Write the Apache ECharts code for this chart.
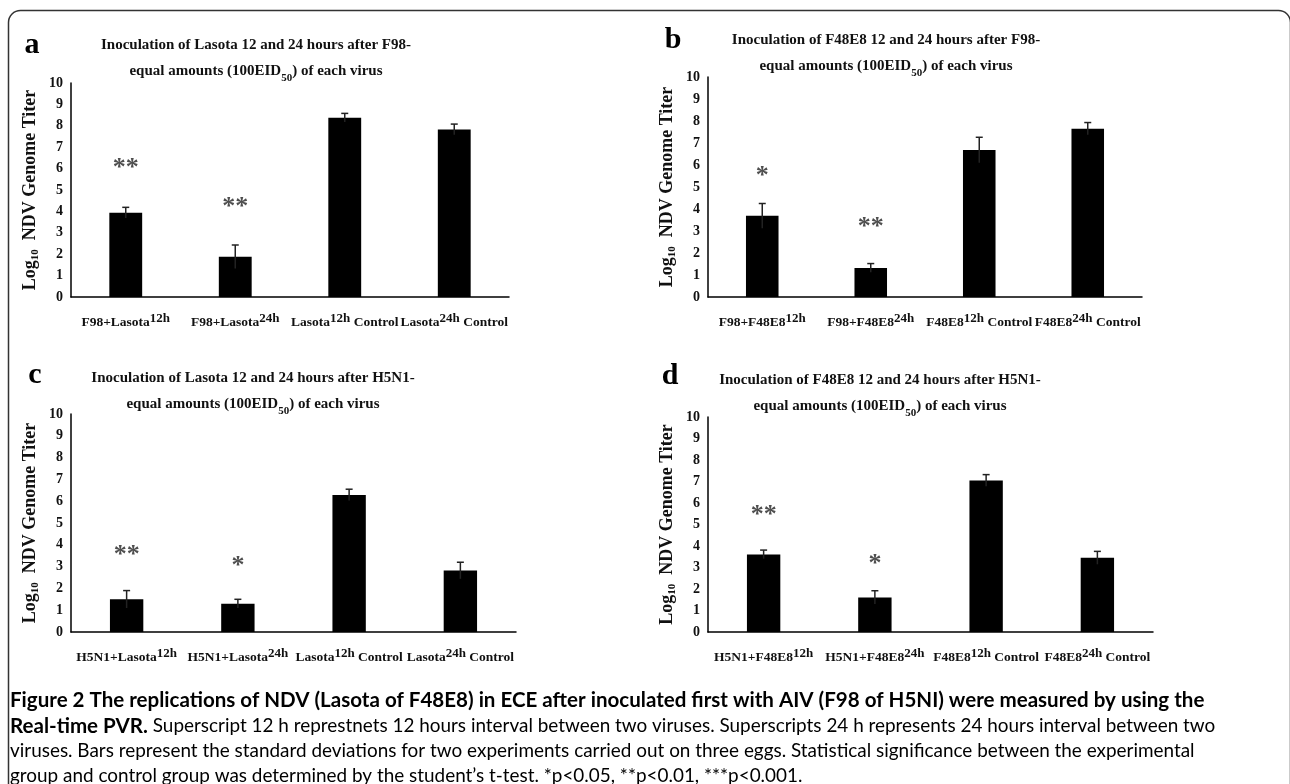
<!DOCTYPE html>
<html><head><meta charset="utf-8">
<script src="https://cdn.jsdelivr.net/npm/echarts@6/dist/echarts.min.js"></script>
<style>html,body{margin:0;padding:0;background:#fff}#c{width:1290px;height:784px}</style>
</head><body><div id="c"></div>
<script>
// ---------- data ----------
const yTickLabels = ['0','1','2','3','4','5','6','7','8','9','10'];

const titleA = 'Inoculation of Lasota 12 and 24 hours after F98-';
const titleB = 'Inoculation of F48E8 12 and 24 hours after F98-';
const titleC = 'Inoculation of Lasota 12 and 24 hours after H5N1-';
const titleD = 'Inoculation of F48E8 12 and 24 hours after H5N1-';
const titleLine2 = ['equal amounts (100EID', '50', ') of each virus'];
const yName = ['Log', '10', '  NDV Genome Titer'];
const panelLetters = ['a', 'b', 'c', 'd'];

// '^' toggles superscript
const catsA = ['F98+Lasota^12h', 'F98+Lasota^24h', 'Lasota^12h^ Control', 'Lasota^24h^ Control'];
const catsB = ['F98+F48E8^12h', 'F98+F48E8^24h', 'F48E8^12h^ Control', 'F48E8^24h^ Control'];
const catsC = ['H5N1+Lasota^12h', 'H5N1+Lasota^24h', 'Lasota^12h^ Control', 'Lasota^24h^ Control'];
const catsD = ['H5N1+F48E8^12h', 'H5N1+F48E8^24h', 'F48E8^12h^ Control', 'F48E8^24h^ Control'];

const valsA = [3.94, 1.88, 8.38, 7.83];
const errsA = [0.25, 0.55, 0.20, 0.25];
const valsB = [3.69, 1.32, 6.68, 7.65];
const errsB = [0.56, 0.20, 0.58, 0.28];
const valsC = [1.50, 1.30, 6.29, 2.82];
const errsC = [0.40, 0.20, 0.26, 0.38];
const valsD = [3.61, 1.61, 7.05, 3.45];
const errsD = [0.20, 0.31, 0.27, 0.30];

const starsA = ['**', '**', '', ''];
const starYA = [6.3, 4.45, null, null];
const starsB = ['*', '**', '', ''];
const starYB = [5.75, 3.42, null, null];
const starsC = ['**', '*', '', ''];
const starYC = [3.8, 3.3, null, null];
const starsD = ['**', '*', '', ''];
const starYD = [5.7, 3.42, null, null];

const caption1 = 'Figure 2 The replications of NDV (Lasota of F48E8) in ECE after inoculated first with AIV (F98 of H5NI) were measured by using the';
const caption2b = 'Real-time PVR.';
const caption2 = ' Superscript 12 h represtnets 12 hours interval between two viruses. Superscripts 24 h represents 24 hours interval between two';
const caption3 = 'viruses. Bars represent the standard deviations for two experiments carried out on three eggs. Statistical significance between the experimental';
const caption4 = 'group and control group was determined by the student\u2019s t-test. *p<0.05, **p<0.01, ***p<0.001.';

// ---------- layout ----------
const SERIF = '"Liberation Serif", "Times New Roman", serif';
const SANS = 'Lato, "Open Sans", sans-serif';
const INK = '#111';

const panels = [
  {title: titleA, cats: catsA, vals: valsA, errs: errsA, stars: starsA, starY: starYA,
   grid: {left: 71, top: 83, width: 438, height: 214}, tx: 256, ty: 32, lx: 32, ly: 45},
  {title: titleB, cats: catsB, vals: valsB, errs: errsB, stars: starsB, starY: starYB,
   grid: {left: 708, top: 77, width: 434, height: 220}, tx: 886, ty: 27, lx: 673, ly: 40},
  {title: titleC, cats: catsC, vals: valsC, errs: errsC, stars: starsC, starY: starYC,
   grid: {left: 71, top: 414, width: 445, height: 218}, tx: 253, ty: 365, lx: 35, ly: 375},
  {title: titleD, cats: catsD, vals: valsD, errs: errsD, stars: starsD, starY: starYD,
   grid: {left: 708, top: 417, width: 445, height: 215}, tx: 880, ty: 367, lx: 670, ly: 376}
];

function supLabel(s) {
  const parts = s.split('^');
  return parts.map((p, i) => p === '' ? '' : (i % 2 ? '{s|' + p + '}' : '{n|' + p + '}')).join('');
}

const option = {
  backgroundColor: '#fff',
  animation: false,
  title: [], grid: [], xAxis: [], yAxis: [], series: [],
  graphic: []
};

panels.forEach((p, i) => {
  option.grid.push(Object.assign({containLabel: false}, p.grid));
  option.title.push({
    text: '{t|' + p.title + '}\n{t|' + titleLine2[0] + '}{sub|' + titleLine2[1] + '}{t|' + titleLine2[2] + '}',
    left: p.tx, top: p.ty, textAlign: 'center', padding: 0,
    textStyle: {
      rich: {
        t: {fontFamily: SERIF, fontWeight: 'bold', fontSize: 15, color: INK, lineHeight: 26},
        sub: {fontFamily: SERIF, fontWeight: 'bold', fontSize: 11, color: INK, lineHeight: 17, verticalAlign: 'bottom'}
      }
    }
  });
  option.xAxis.push({
    type: 'category', gridIndex: i, data: p.cats,
    axisLine: {show: true, lineStyle: {color: '#000', width: 1.5}},
    axisTick: {show: false},
    axisLabel: {
      interval: 0, margin: 15, formatter: v => supLabel(v),
      rich: {
        n: {fontFamily: SERIF, fontWeight: 'bold', fontSize: 13.5, color: INK, lineHeight: 22},
        s: {fontFamily: SERIF, fontWeight: 'bold', fontSize: 13, color: INK, lineHeight: 13, verticalAlign: 'top'}
      }
    }
  });
  option.yAxis.push({
    type: 'value', gridIndex: i, min: 0, max: 10, interval: 1,
    axisLine: {show: true, lineStyle: {color: '#000', width: 1.5}},
    axisTick: {show: false},
    splitLine: {show: false},
    axisLabel: {margin: 8, fontFamily: SERIF, fontWeight: 'bold', fontSize: 14, color: INK,
      formatter: v => yTickLabels[Math.round(v)]},
    name: '{a|' + yName[0] + '}{b|' + yName[1] + '}{a|' + yName[2] + '}',
    nameLocation: 'middle', nameGap: 30, nameRotate: 90,
    nameTextStyle: {
      rich: {
        a: {fontFamily: SERIF, fontWeight: 'bold', fontSize: 18, color: INK, lineHeight: 22},
        b: {fontFamily: SERIF, fontWeight: 'bold', fontSize: 11, color: INK, lineHeight: 16, verticalAlign: 'bottom'}
      }
    }
  });
  option.series.push({
    type: 'bar', xAxisIndex: i, yAxisIndex: i, data: p.vals,
    barWidth: '30%', itemStyle: {color: '#000'}
  });
  option.series.push({
    type: 'custom', xAxisIndex: i, yAxisIndex: i, z: 5,
    data: p.vals.map((v, j) => [j, v, p.errs[j]]),
    encode: {x: 0, y: 1},
    renderItem: (params, api) => {
      const x = api.value(0), v = api.value(1), e = api.value(2);
      const top = api.coord([x, v + e]);
      const bot = api.coord([x, v - e]);
      const hw = 3.5;
      return {type: 'group', children: [
        {type: 'line', shape: {x1: top[0], y1: top[1], x2: bot[0], y2: bot[1]}, style: {stroke: '#222', lineWidth: 1.5}},
        {type: 'line', shape: {x1: top[0] - hw, y1: top[1], x2: top[0] + hw, y2: top[1]}, style: {stroke: '#222', lineWidth: 1.5}}
      ]};
    }
  });
  option.series.push({
    type: 'scatter', xAxisIndex: i, yAxisIndex: i, z: 6,
    data: p.starY.map((y, j) => y == null ? null : [j, y]).filter(d => d),
    symbolSize: 1, itemStyle: {color: 'rgba(0,0,0,0)'},
    label: {show: true, position: 'inside', offset: [0, 6],
      formatter: prm => p.stars[prm.data[0]],
      fontFamily: SERIF, fontWeight: 'bold', fontSize: 26, color: '#222'}
  });
  option.graphic.push({
    type: 'text', x: p.lx, y: p.ly,
    style: {text: panelLetters[i], fontFamily: SERIF, fontWeight: 'bold', fontSize: 30, fill: '#000',
      align: 'center', verticalAlign: 'middle'}
  });
});

// frame
option.graphic.push({
  type: 'rect', shape: {x: 8.5, y: 10.5, width: 1282, height: 820, r: 12},
  style: {fill: 'none', stroke: '#333', lineWidth: 1.5}, z: -1
});

// caption: fit font size to the measured line widths of the reference
const mctx = document.createElement('canvas').getContext('2d');
function widthAt(text, weight, size) {
  mctx.font = weight + ' ' + size + 'px ' + SANS;
  return mctx.measureText(text).width;
}
const boldSize = 100 * 1195 / widthAt(caption1, 'bold', 100);
const normSize = 100 * 1185 / widthAt(caption3, 'normal', 100);

const capRich = {
  b: {fontFamily: SANS, fontWeight: 'bold', fontSize: boldSize, color: '#1a1a1a'},
  n: {fontFamily: SANS, fontWeight: 'normal', fontSize: normSize, color: '#3c3c3c'}
};
[['{b|' + caption1 + '}', 700],
 ['{b|' + caption2b + '}{n|' + caption2 + '}', 726],
 ['{n|' + caption3 + '}', 751],
 ['{n|' + caption4 + '}', 776]].forEach(([t, y]) => {
  option.graphic.push({
    type: 'text', x: 10, y: y,
    style: {text: t, rich: capRich, align: 'left', verticalAlign: 'middle', fontSize: normSize, fontFamily: SANS}
  });
});

const chart = echarts.init(document.getElementById('c'));
chart.setOption(option);
</script>
</body></html>
